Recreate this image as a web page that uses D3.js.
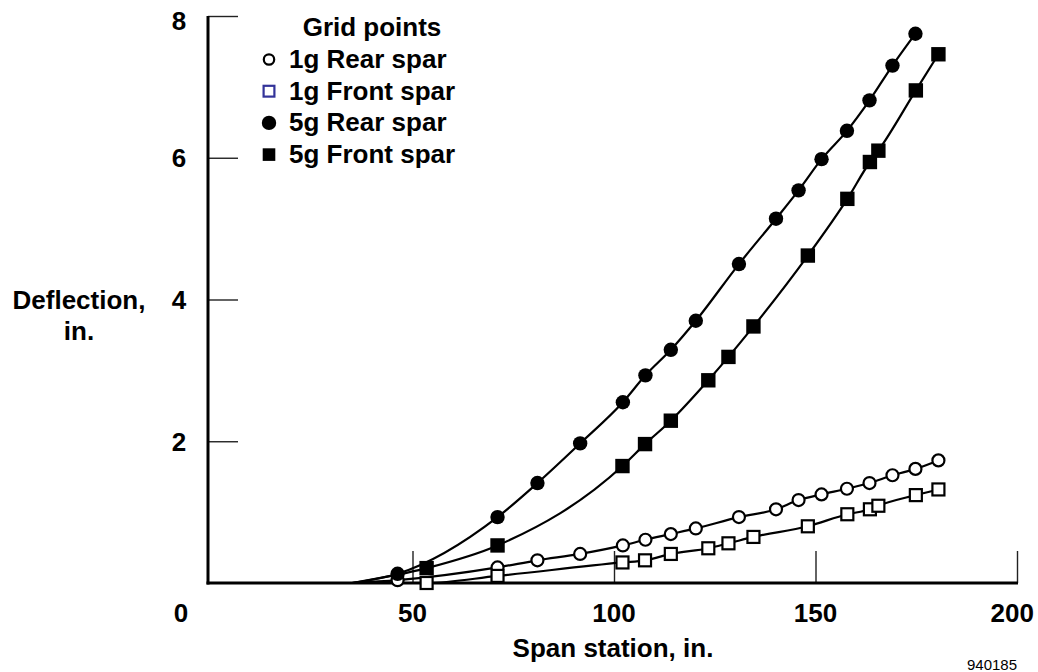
<!DOCTYPE html>
<html><head><meta charset="utf-8">
<script src="https://cdn.jsdelivr.net/npm/d3@7"></script>
<style>
body{margin:0;background:#fff}
text{font-family:"Liberation Sans",Arial,Helvetica,sans-serif;font-weight:bold;fill:#000}
</style>
</head><body>
<svg id="chart" width="1038" height="672"></svg>
<script>
// ---- data ----
const rearStations  = [46.3, 71.1, 81, 91.6, 102.2, 107.8, 114.1, 120.3, 131, 140.2, 145.8, 151.5, 157.8, 163.4, 169.1, 174.8, 180.5];
const frontStations = [53.5, 71.1, 102.1, 107.7, 114.1, 123.4, 128.4, 134.6, 148.1, 157.9, 163.5, 165.6, 174.9, 180.5];
const rear1g  = [0.04, 0.22, 0.32, 0.41, 0.53, 0.61, 0.69, 0.77, 0.93, 1.04, 1.17, 1.25, 1.33, 1.41, 1.52, 1.61, 1.73];
const front1g = [0.00, 0.10, 0.29, 0.32, 0.41, 0.49, 0.56, 0.65, 0.80, 0.97, 1.04, 1.09, 1.24, 1.32];
const rear5g  = [0.13, 0.93, 1.41, 1.97, 2.55, 2.93, 3.29, 3.70, 4.50, 5.14, 5.54, 5.98, 6.38, 6.81, 7.30, 7.75];
const front5g = [0.21, 0.53, 1.65, 1.96, 2.29, 2.86, 3.19, 3.62, 4.62, 5.42, 5.94, 6.10, 6.95, 7.46];
const curveOnsetStation = 35;   // where the faired curves leave zero deflection
const seriesNames = ["1g Rear spar", "1g Front spar", "5g Rear spar", "5g Front spar"];
const xTickValues = [0, 50, 100, 150, 200];
const yTickValues = [2, 4, 6, 8];
const legendTitle = "Grid points";
const xTitle = "Span station, in.";
const yTitleLines = ["Deflection,", "in."];
const figureId = "940185";

// ---- layout / styles ----
const svg = d3.select("#chart");
const x = d3.scaleLinear().domain([0, 200]).range([211, 1017]);
const y = d3.scaleLinear().domain([0, 8]).range([583, 16]);
const axisX = 208;
const FS = "26px";

const styles = [
  {shape: "circle", filled: false, legendStroke: "#000"},
  {shape: "square", filled: false, legendStroke: "#333399"},
  {shape: "circle", filled: true,  legendStroke: "#000"},
  {shape: "square", filled: true,  legendStroke: "#000"}
];
const series = [
  {name: seriesNames[0], pts: rearStations.map((s, i) => [s, rear1g[i]])},
  {name: seriesNames[1], pts: frontStations.map((s, i) => [s, front1g[i]])},
  {name: seriesNames[2], pts: rear5g.map((v, i) => [rearStations[i], v])},
  {name: seriesNames[3], pts: frontStations.map((s, i) => [s, front5g[i]])}
];

// ---- axes ----
const yAxis = svg.append("g").attr("transform", `translate(${axisX},0)`)
  .call(d3.axisLeft(y).tickValues(yTickValues).tickSize(-30).tickFormat(""));
yAxis.select(".domain").remove();
yAxis.selectAll(".tick line").attr("stroke", "#222").attr("stroke-width", 1.4);

const xAxis = svg.append("g").attr("transform", `translate(0,${y(0)})`)
  .call(d3.axisBottom(x).tickValues(xTickValues.filter(v => v > 0)).tickSize(-32).tickFormat(""));
xAxis.select(".domain").remove();
xAxis.selectAll(".tick line").attr("stroke", "#222").attr("stroke-width", 1.4);

svg.append("line").attr("x1", axisX).attr("x2", axisX)
  .attr("y1", y(8)).attr("y2", y(0) + 1.5).attr("stroke", "#000").attr("stroke-width", 3);
svg.append("line").attr("x1", axisX - 1.5).attr("x2", x(200) + 1)
  .attr("y1", y(0)).attr("y2", y(0)).attr("stroke", "#000").attr("stroke-width", 3);

// tick labels
svg.selectAll("text.ylab").data(yTickValues).join("text").attr("class", "ylab")
  .attr("x", 179).attr("y", d => y(d) + (d === 8 ? 5 : 0)).attr("dy", "0.36em")
  .attr("text-anchor", "middle").style("font-size", FS).text(d => d);
svg.selectAll("text.xlab").data(xTickValues).join("text").attr("class", "xlab")
  .attr("x", d => d === 0 ? 181 : (d === 200 ? x(d) + 17 : x(d)))
  .attr("y", 622)
  .attr("text-anchor", d => d === 200 ? "end" : "middle")
  .style("font-size", FS).text(d => d);

// titles
svg.append("text").attr("x", 613).attr("y", 657).attr("text-anchor", "middle")
  .style("font-size", FS).text(xTitle);
svg.selectAll("text.ytitle").data(yTitleLines).join("text").attr("class", "ytitle")
  .attr("x", 79).attr("y", (d, i) => 309 + i * 31).attr("text-anchor", "middle")
  .style("font-size", FS).text(d => d);
svg.append("text").attr("x", 992).attr("y", 670).attr("text-anchor", "middle")
  .style("font-size", "15px").style("font-weight", "normal").text(figureId);

// ---- curves ----
const line = d3.line().x(d => x(d[0])).y(d => y(d[1])).curve(d3.curveMonotoneX);
series.forEach(s => {
  svg.append("path").datum([[curveOnsetStation, 0], ...s.pts])
    .attr("d", line).attr("fill", "none").attr("stroke", "#000").attr("stroke-width", 2.2);
});

// ---- markers ----
function drawMarker(g, style, cx, cy, stroke, legend) {
  if (style.shape === "circle") {
    if (style.filled) g.append("circle").attr("cx", cx).attr("cy", cy).attr("r", 7.2).attr("fill", "#000");
    else g.append("circle").attr("cx", cx).attr("cy", cy).attr("r", legend ? 5.2 : 6)
      .attr("fill", "#fff").attr("stroke", stroke).attr("stroke-width", 2.2);
  } else {
    if (style.filled) { const h = legend ? 6.3 : 7.2;
      g.append("rect").attr("x", cx - h).attr("y", cy - h).attr("width", 2 * h).attr("height", 2 * h).attr("fill", "#000"); }
    else { const h = legend ? 5.4 : 6;
      g.append("rect").attr("x", cx - h).attr("y", cy - h).attr("width", 2 * h).attr("height", 2 * h)
        .attr("fill", "#fff").attr("stroke", stroke).attr("stroke-width", 2.2); }
  }
}
series.forEach((s, i) => {
  const g = svg.append("g");
  s.pts.forEach(p => drawMarker(g, styles[i], x(p[0]), y(p[1]), "#000", false));
});

// ---- legend ----
svg.append("text").attr("x", 372).attr("y", 36).attr("text-anchor", "middle")
  .style("font-size", FS).text(legendTitle);
series.forEach((s, i) => {
  const base = 68 + i * 31.7;
  const g = svg.append("g");
  drawMarker(g, styles[i], 269, base - 8.5, styles[i].legendStroke, true);
  g.append("text").attr("x", 289).attr("y", base).style("font-size", FS).text(s.name);
});
</script>
</body></html>
